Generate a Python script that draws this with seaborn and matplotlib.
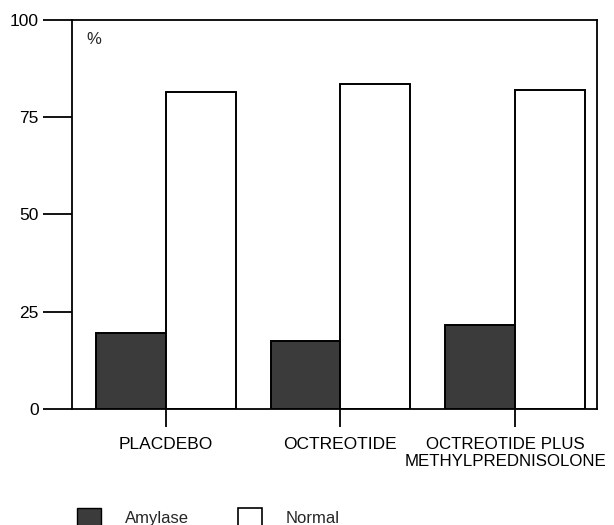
import pandas as pd
import matplotlib
matplotlib.use("Agg")
import matplotlib.pyplot as plt
import matplotlib.transforms as mtransforms
import seaborn as sns
from matplotlib.patches import Patch

### Values (%)
groups = ['PLACDEBO', 'OCTREOTIDE', 'OCTREOTIDE PLUS\nMETHYLPREDNISOLONE']
amylase = [19.5, 17.5, 21.5]
normal = [81.5, 83.5, 82.0]
y_ticks = [0, 25, 50, 75, 100]

df = pd.DataFrame({'group': groups * 2,
                   'series': ['Amylase'] * 3 + ['Normal'] * 3,
                   'pct': amylase + normal})

sns.set_style('white')
plt.rcParams['font.family'] = ['Liberation Sans', 'DejaVu Sans']
plt.rcParams['font.size'] = 12.5

fig = plt.figure(figsize=(6.14, 5.25), dpi=100)
ax = fig.add_axes([0.117, 0.221, 0.855, 0.741])

colors = {'Amylase': '#3b3b3b', 'Normal': 'white'}
sns.barplot(data=df, x='group', y='pct', hue='series', palette=colors,
            edgecolor='black', linewidth=1.4, width=0.8, ax=ax,
            legend=False)

ax.set_ylim(0, 100)
ax.set_xlim(-0.54, 2.47)
ax.set_yticks(y_ticks)
ax.set_xlabel('')
ax.set_ylabel('')
for s in ax.spines.values():
    s.set_color('black')
    s.set_linewidth(1.3)

## Ticks: long ones on the left, shorter below
ax.tick_params(axis='both', bottom=True, left=True, direction='out',
               width=1.3, color='black', labelcolor='black', labelsize=12.5)
ax.tick_params(axis='y', length=21, pad=3)
ax.tick_params(axis='x', length=13, pad=7)

## last category label sits a bit left of its tick so it stays on the page
fig.canvas.draw()
last = ax.get_xticklabels()[-1]
last.set_transform(last.get_transform() +
                   mtransforms.ScaledTranslation(-0.09, 0, fig.dpi_scale_trans))
last.set_fontsize(12.2)

ax.text(0.027, 0.968, '%', transform=ax.transAxes, ha='left', va='top',
        fontsize=12)

## Legend below the plot
handles = [Patch(facecolor='#3b3b3b', edgecolor='black', linewidth=1.0, label='Amylase'),
           Patch(facecolor='white', edgecolor='black', linewidth=1.2, label='Normal')]
fig.legend(handles=handles, loc='upper left', bbox_to_anchor=(77 / 614, 1 - 508 / 525),
           ncol=2, frameon=False, borderpad=0, borderaxespad=0,
           handlelength=1.44, handleheight=1.44,
           handletextpad=1.44, columnspacing=2.94, fontsize=12)

fig.savefig('out.png', dpi=100)
